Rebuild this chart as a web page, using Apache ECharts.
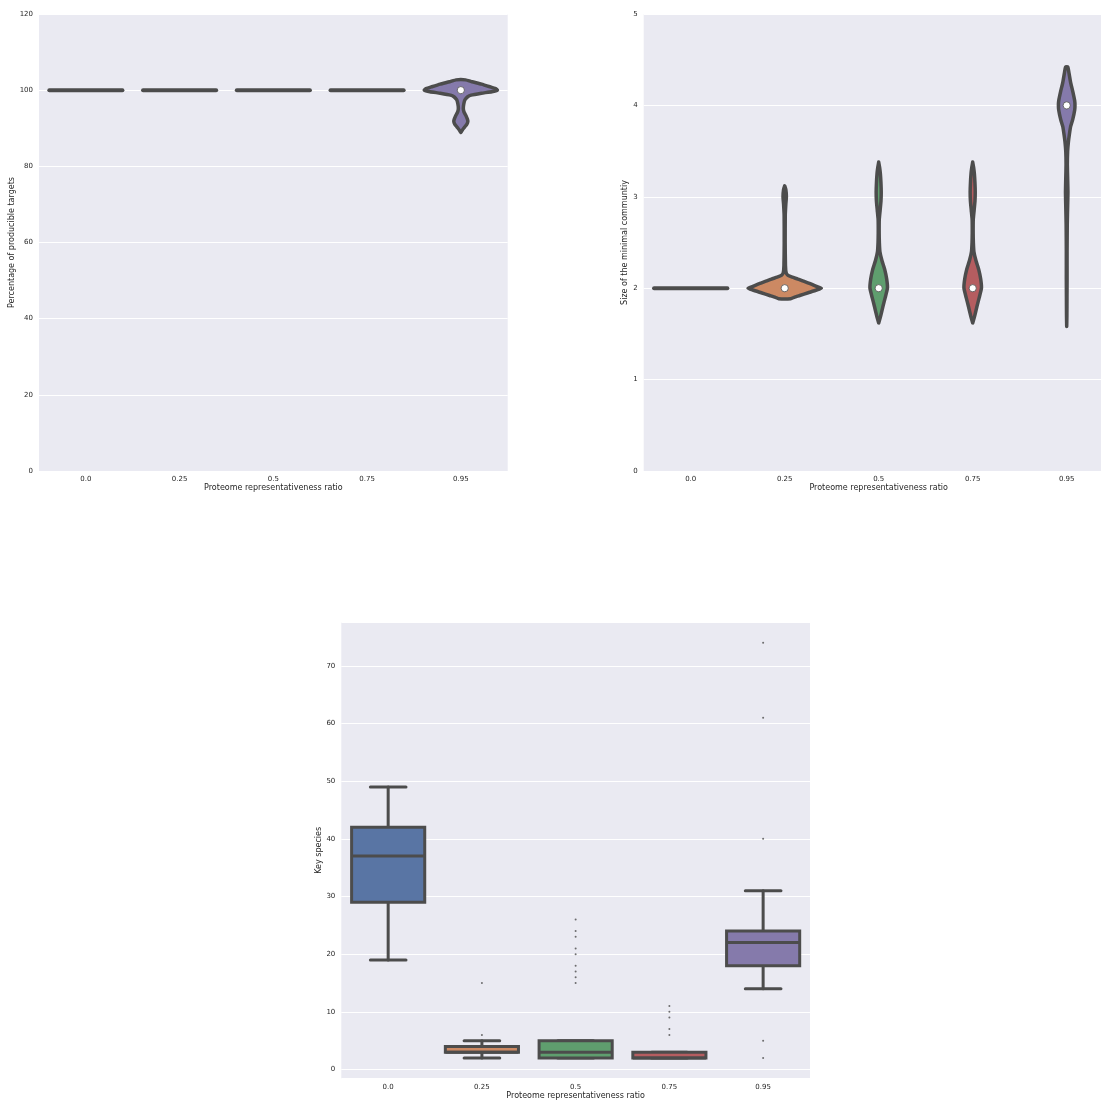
<!DOCTYPE html>
<html>
<head>
<meta charset="utf-8">
<script src="https://cdn.jsdelivr.net/npm/echarts@6/dist/echarts.min.js"></script>
<style>html,body{margin:0;padding:0;background:#fff;overflow:hidden;width:1101px;height:1102px}#c{width:1120px;height:1102px}</style>
</head>
<body>
<div id="c"></div>
<script>
// ---------------- DATA ----------------
const categories = ['0.0', '0.25', '0.5', '0.75', '0.95'];
const xName = 'Proteome representativeness ratio';

// Top-left: Percentage of producible targets (violin outlines: [value, half-width as share of band])
const targets00 = [[100, 0.39]];
const targets25 = [[100, 0.39]];
const targets50 = [[100, 0.39]];
const targets75 = [[100, 0.39]];
const targets95 = [[102.7, 0.05], [102.2, 0.12], [101.6, 0.22], [100.9, 0.31], [100.4, 0.37], [100, 0.39],
  [99.6, 0.33], [99.2, 0.22], [98.7, 0.11], [98.2, 0.07], [97.5, 0.045], [96.8, 0.035], [95.8, 0.028],
  [95, 0.027], [94.2, 0.035], [93.3, 0.055], [92.4, 0.07], [91.8, 0.075], [91.1, 0.065], [90.3, 0.04],
  [89.5, 0.015], [88.9, 0]];
const targetsMedians = [null, null, null, null, 100];

// Top-right: Size of the minimal community
const community00 = [[2, 0.39]];
const community25 = [[3.12, 0], [3.08, 0.012], [3.0, 0.018], [2.92, 0.012], [2.8, 0.006], [2.5, 0.005],
  [2.25, 0.008], [2.17, 0.015], [2.14, 0.035], [2.12, 0.08], [2.1, 0.14], [2.08, 0.19], [2.05, 0.27],
  [2.02, 0.34], [2.0, 0.39], [1.98, 0.34], [1.95, 0.25], [1.92, 0.16], [1.9, 0.1], [1.885, 0.065]];
const community50 = [[3.38, 0], [3.32, 0.01], [3.25, 0.018], [3.15, 0.024], [3.05, 0.027], [2.95, 0.024],
  [2.85, 0.015], [2.75, 0.006], [2.6, 0.005], [2.5, 0.007], [2.4, 0.013], [2.3, 0.035], [2.2, 0.065],
  [2.1, 0.085], [2.0, 0.093], [1.9, 0.07], [1.8, 0.045], [1.7, 0.022], [1.62, 0]];
const community75 = [[3.38, 0], [3.32, 0.01], [3.25, 0.018], [3.15, 0.024], [3.05, 0.027], [2.95, 0.024],
  [2.85, 0.015], [2.75, 0.006], [2.6, 0.005], [2.5, 0.007], [2.4, 0.013], [2.3, 0.035], [2.2, 0.065],
  [2.1, 0.085], [2.0, 0.093], [1.9, 0.07], [1.8, 0.045], [1.7, 0.022], [1.62, 0]];
const community95 = [[4.42, 0.012], [4.35, 0.025], [4.25, 0.042], [4.15, 0.065], [4.05, 0.085], [4.0, 0.088],
  [3.95, 0.085], [3.85, 0.065], [3.77, 0.042], [3.68, 0.028], [3.6, 0.018], [3.5, 0.01], [3.35, 0.007],
  [3.2, 0.01], [3.05, 0.013], [2.9, 0.01], [2.7, 0.006], [2.4, 0.004], [2.1, 0.004], [1.9, 0.003],
  [1.7, 0.002], [1.58, 0]];
const communityMedians = [null, 2, 2, 2, 4];

// Bottom: Key species (box plot statistics)
const keyLow    = [19, 2, 2, 2, 14];
const keyQ1     = [29, 3, 2, 2, 18];
const keyMedian = [37, 3, 3, 2, 22];
const keyQ3     = [42, 4, 5, 3, 24];
const keyHigh   = [49, 5, 5, 3, 31];
const keyOutliers25 = [6, 15];
const keyOutliers50 = [15, 16, 17, 18, 20, 21, 23, 24, 26];
const keyOutliers75 = [6, 7, 9, 10, 11];
const keyOutliers95 = [2, 5, 40, 61, 74];

// ---------------- STYLE ----------------
const palette = ['#5975A4', '#CC8963', '#5F9E6E', '#B55D60', '#857AAB'];
const LINE = '#4C4C4C';
const BG = '#EAEAF2';
const TXT = '#262626';
const FONT = 'DejaVu Sans';

const targetsProfiles = [targets00, targets25, targets50, targets75, targets95];
const communityProfiles = [community00, community25, community50, community75, community95];

function violinRender(profiles, medians) {
  return function (params, api) {
    const i = api.value(0);
    const prof = profiles[i];
    const bw = api.size([1, 0])[0];
    const cx = api.coord([i, 0])[0];
    const children = [];
    if (prof.length === 1) {
      const y = api.coord([i, prof[0][0]])[1];
      children.push({
        type: 'line',
        shape: { x1: cx - prof[0][1] * bw, y1: y, x2: cx + prof[0][1] * bw, y2: y },
        style: { stroke: LINE, lineWidth: 4, lineCap: 'round' }
      });
    } else {
      const right = prof.map(p => [cx + p[1] * bw, api.coord([i, p[0]])[1]]);
      const left = prof.slice().reverse().map(p => [cx - p[1] * bw, api.coord([i, p[0]])[1]]);
      children.push({
        type: 'polygon',
        shape: { points: right.concat(left), smooth: 0.15 },
        style: { fill: palette[i], stroke: LINE, lineWidth: 3.5, lineJoin: 'round' }
      });
    }
    if (medians[i] != null) {
      const y = api.coord([i, medians[i]])[1];
      children.push({
        type: 'circle', shape: { cx: cx, cy: y, r: 3.6 },
        style: { fill: '#ffffff', stroke: LINE, lineWidth: 0.8 }
      });
    }
    return { type: 'group', children: children };
  };
}

function boxRender(params, api) {
  const i = api.value(0);
  const bw = api.size([1, 0])[0];
  const cx = api.coord([i, 0])[0];
  const y = v => api.coord([i, v])[1];
  const yl = y(keyLow[i]), y1 = y(keyQ1[i]), ym = y(keyMedian[i]), y3 = y(keyQ3[i]), yh = y(keyHigh[i]);
  const half = 0.39 * bw, cap = 0.19 * bw;
  const st = { stroke: LINE, lineWidth: 3, lineCap: 'round' };
  return {
    type: 'group',
    children: [
      { type: 'line', shape: { x1: cx, y1: y3, x2: cx, y2: yh }, style: st },
      { type: 'line', shape: { x1: cx, y1: y1, x2: cx, y2: yl }, style: st },
      { type: 'line', shape: { x1: cx - cap, y1: yh, x2: cx + cap, y2: yh }, style: st },
      { type: 'line', shape: { x1: cx - cap, y1: yl, x2: cx + cap, y2: yl }, style: st },
      { type: 'rect', shape: { x: cx - half, y: y3, width: 2 * half, height: y1 - y3 },
        style: { fill: palette[i], stroke: LINE, lineWidth: 3, lineJoin: 'miter' } },
      { type: 'line', shape: { x1: cx - half, y1: ym, x2: cx + half, y2: ym },
        style: { stroke: LINE, lineWidth: 3, lineCap: 'butt' } }
    ]
  };
}

const outlierData = []
  .concat(keyOutliers25.map(v => [1, v]))
  .concat(keyOutliers50.map(v => [2, v]))
  .concat(keyOutliers75.map(v => [3, v]))
  .concat(keyOutliers95.map(v => [4, v]));

function xAxisCfg(gi) {
  return {
    type: 'category', gridIndex: gi, data: categories,
    name: xName, nameLocation: 'middle', nameGap: 13,
    nameTextStyle: { color: TXT, fontSize: 8, fontFamily: FONT },
    axisLine: { show: false }, axisTick: { show: false },
    axisLabel: { color: TXT, fontSize: 7, fontFamily: FONT, margin: 5 },
    splitLine: { show: false }
  };
}
function yAxisCfg(gi, name, gap, extra) {
  return Object.assign({
    type: 'value', gridIndex: gi,
    name: name, nameLocation: 'middle', nameGap: gap,
    nameTextStyle: { color: TXT, fontSize: 8, fontFamily: FONT },
    axisLine: { show: false }, axisTick: { show: false },
    axisLabel: { color: TXT, fontSize: 7, fontFamily: FONT, margin: 6 },
    splitLine: { show: true, lineStyle: { color: '#ffffff', width: 1 } }
  }, extra);
}

const chart = echarts.init(document.getElementById('c'), null, { renderer: 'canvas' });
chart.setOption({
  animation: false,
  backgroundColor: '#ffffff',
  grid: [
    { left: 39, top: 14, width: 468.7, height: 457, show: true, backgroundColor: BG, borderWidth: 0 },
    { left: 643.7, top: 14, width: 470, height: 457, show: true, backgroundColor: BG, borderWidth: 0 },
    { left: 341.3, top: 622, width: 468.7, height: 456.7, show: true, backgroundColor: BG, borderWidth: 0 }
  ],
  xAxis: [xAxisCfg(0), xAxisCfg(1), xAxisCfg(2)],
  yAxis: [
    yAxisCfg(0, 'Percentage of producible targets', 19, { min: 0, max: 120, interval: 20 }),
    yAxisCfg(1, 'Size of the minimal communtiy', 9.5, { min: 0, max: 5, interval: 1 }),
    yAxisCfg(2, 'Key species', 15, { min: -1.6, max: 77.6, splitNumber: 8,
      axisLabel: { color: TXT, fontSize: 7, fontFamily: FONT, margin: 6, showMinLabel: false, showMaxLabel: false } })
  ],
  series: [
    { type: 'custom', xAxisIndex: 0, yAxisIndex: 0, data: [[0], [1], [2], [3], [4]],
      renderItem: violinRender(targetsProfiles, targetsMedians) },
    { type: 'custom', xAxisIndex: 1, yAxisIndex: 1, data: [[0], [1], [2], [3], [4]],
      renderItem: violinRender(communityProfiles, communityMedians) },
    { type: 'custom', xAxisIndex: 2, yAxisIndex: 2, data: [[0], [1], [2], [3], [4]],
      renderItem: boxRender },
    { type: 'scatter', xAxisIndex: 2, yAxisIndex: 2, data: outlierData,
      symbol: 'circle', symbolSize: 2, itemStyle: { color: LINE } }
  ]
});
</script>
</body>
</html>
